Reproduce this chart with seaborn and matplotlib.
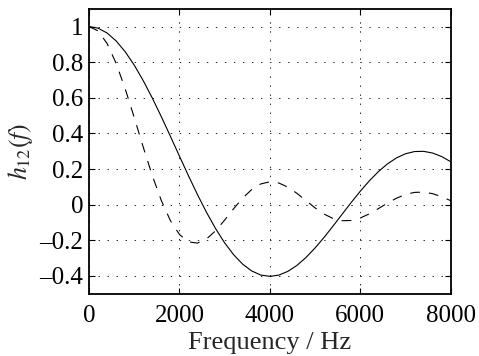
import numpy as np
import pandas as pd
import matplotlib
matplotlib.use("Agg")
import matplotlib.pyplot as plt
import seaborn as sns

# Frequency grid (Hz)
freq = [0, 200, 400, 600, 800, 1000, 1200, 1400, 1600, 1800,
        2000, 2200, 2400, 2600, 2800, 3000, 3200, 3400, 3600, 3800,
        4000, 4200, 4400, 4600, 4800, 5000, 5200, 5400, 5600, 5800,
        6000, 6200, 6400, 6600, 6800, 7000, 7200, 7400, 7600, 7800, 8000]

# Solid curve
h_solid = [1.0000, 0.9908, 0.9636, 0.9191, 0.8585, 0.7834, 0.6959, 0.5984, 0.4935, 0.3839,
           0.2726, 0.1622, 0.0560, -0.0438, -0.1346, -0.2145, -0.2815, -0.3345, -0.3725, -0.3953,
           -0.4028, -0.3955, -0.3744, -0.3409, -0.2966, -0.2434, -0.1836, -0.1195, -0.0534, 0.0123,
           0.0753, 0.1336, 0.1852, 0.2285, 0.2623, 0.2856, 0.2980, 0.2993, 0.2897, 0.2700, 0.2409]

# Dashed curve
h_dashed = [1.0000, 0.9756, 0.9046, 0.7930, 0.6506, 0.4894, 0.3225, 0.1630, 0.0226, -0.0895,
            -0.1674, -0.2091, -0.2158, -0.1925, -0.1466, -0.0868, -0.0226, 0.0371, 0.0851, 0.1163,
            0.1282, 0.1213, 0.0981, 0.0633, 0.0225, -0.0182, -0.0531, -0.0781, -0.0903, -0.0889,
            -0.0751, -0.0517, -0.0224, 0.0083, 0.0360, 0.0570, 0.0688, 0.0702, 0.0616, 0.0446, 0.0222]

xticks = [0, 2000, 4000, 6000, 8000]
yticks = [-0.4, -0.2, 0, 0.2, 0.4, 0.6, 0.8, 1]
ytick_labels = ["\u20130.4", "\u20130.2", "0", "0.2", "0.4", "0.6", "0.8", "1"]

sns.set_style("ticks")
plt.rcParams.update({
    "font.family": ["Liberation Serif", "DejaVu Serif"],
    "mathtext.fontset": "stix",
    "lines.scale_dashes": False,
})

df = pd.DataFrame({
    "f": freq + freq,
    "h": h_solid + h_dashed,
    "kind": ["solid"] * len(freq) + ["dashed"] * len(freq),
})

fig = plt.figure(figsize=(4.79, 3.56), dpi=100)
ax = fig.add_axes([89 / 479, 1 - 293.7 / 356, (450.7 - 89) / 479, (293.7 - 8.7) / 356])

sns.lineplot(data=df, x="f", y="h", style="kind",
             dashes={"solid": "", "dashed": (7, 6.5)},
             color="k", linewidth=0.8, legend=False, ax=ax,
             estimator=None, sort=False)

ax.set_xlim(0, 8000)
ax.set_ylim(-0.5, 1.1)
ax.set_xticks(xticks)
ax.set_xticklabels([str(t) for t in xticks])
ax.set_yticks(yticks)
ax.set_yticklabels(ytick_labels)

ax.grid(True, linestyle=(0, (1, 5.5)), color="k", linewidth=0.6)
ax.tick_params(direction="in", top=True, right=True, length=4, width=0.8,
               labelsize=18, colors="k")
ax.tick_params(axis="x", pad=8)
ax.tick_params(axis="y", pad=4)
for s in ax.spines.values():
    s.set_linewidth(1.3)
    s.set_color("k")

ax.set_xlabel("Frequency / Hz", fontsize=19, labelpad=4)
ax.set_ylabel(r"$h_{12}(f)$", fontsize=18.5, labelpad=3)

fig.savefig("out.png", dpi=100)
